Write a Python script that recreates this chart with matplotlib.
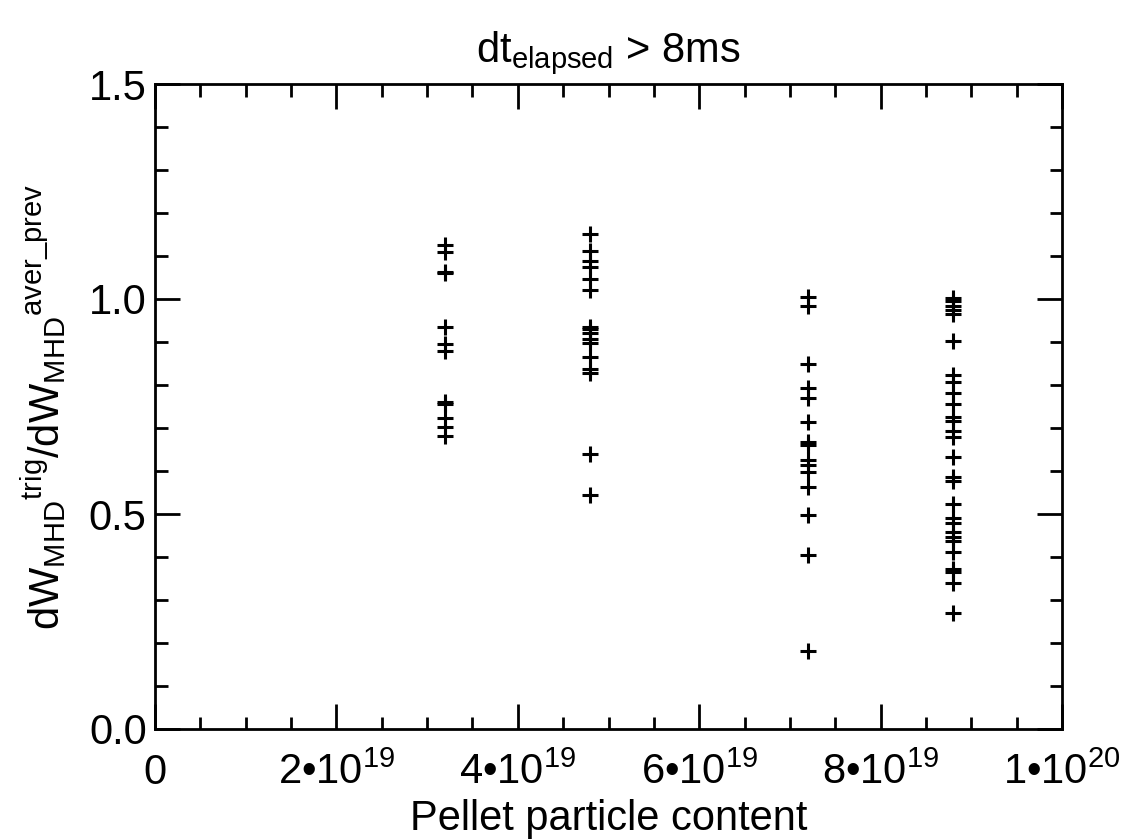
import matplotlib
matplotlib.use("Agg")
import matplotlib.pyplot as plt
from matplotlib.ticker import MultipleLocator, FixedLocator

plt.rcParams['font.family'] = ['Liberation Sans', 'DejaVu Sans']
plt.rcParams['mathtext.fontset'] = 'custom'
plt.rcParams['mathtext.rm'] = 'Liberation Sans'
plt.rcParams['mathtext.it'] = 'Liberation Sans'

# pellet particle content groups and measured ratios
x_groups = [3.2e19, 4.8e19, 7.2e19, 8.8e19]
ratio_32 = [1.126, 1.109, 1.063, 1.060, 0.936, 0.895, 0.879, 0.761, 0.755,
            0.724, 0.703, 0.681]
ratio_48 = [1.151, 1.112, 1.088, 1.075, 1.046, 1.020, 0.936, 0.930, 0.920,
            0.908, 0.898, 0.866, 0.837, 0.827, 0.639, 0.545]
ratio_72 = [1.005, 0.984, 0.850, 0.792, 0.769, 0.715, 0.668, 0.660, 0.626,
            0.615, 0.598, 0.563, 0.498, 0.405, 0.182]
ratio_88 = [1.003, 0.995, 0.984, 0.974, 0.964, 0.903, 0.823, 0.808, 0.782,
            0.756, 0.725, 0.717, 0.692, 0.680, 0.633, 0.587, 0.577, 0.524,
            0.490, 0.480, 0.459, 0.447, 0.438, 0.412, 0.373, 0.364, 0.339,
            0.269]
ratios = [ratio_32, ratio_48, ratio_72, ratio_88]

x_ticks = [0, 2e19, 4e19, 6e19, 8e19, 1e20]
x_ticklabels = ['0', r'2•10$^{19}$', r'4•10$^{19}$', r'6•10$^{19}$',
                r'8•10$^{19}$', r'1•10$^{20}$']
y_ticks = [0.0, 0.5, 1.0, 1.5]
y_ticklabels = ['0.0', '0.5', '1.0', '1.5']

fs = 30

fig = plt.figure(figsize=(11.24, 8.4), dpi=100)
ax = fig.add_axes([155 / 1124, 1 - 729 / 840, 907 / 1124, 645 / 840])

for xg, vals in zip(x_groups, ratios):
    ax.plot([xg] * len(vals), vals, linestyle='none', marker='+',
            markersize=11, markeredgewidth=2.2, color='black')

ax.set_xlim(0, 1e20)
ax.set_ylim(0, 1.5)
ax.xaxis.set_major_locator(FixedLocator(x_ticks))
ax.xaxis.set_minor_locator(MultipleLocator(5e18))
ax.yaxis.set_major_locator(FixedLocator(y_ticks))
ax.yaxis.set_minor_locator(MultipleLocator(0.1))
ax.set_xticklabels(x_ticklabels)
ax.set_yticklabels(y_ticklabels)

ax.tick_params(which='both', direction='in', top=True, right=True,
               labelsize=fs, width=2)
ax.tick_params(axis='x', pad=17)
ax.tick_params(axis='y', pad=6)
ax.tick_params(which='major', length=18)
ax.tick_params(which='minor', length=9)
for sp in ax.spines.values():
    sp.set_linewidth(2)

ax.set_xlabel('Pellet particle content', fontsize=fs, labelpad=4)
ax.set_ylabel(r'dW$_{\rm MHD}{}^{\rm trig}$/dW$_{\rm MHD}{}^{\rm aver\_prev}$',
              fontsize=fs, labelpad=14)
ax.set_title(r'dt$_{\rm elapsed}$ > 8ms', fontsize=fs, pad=16)

fig.savefig('out.png', dpi=100)
